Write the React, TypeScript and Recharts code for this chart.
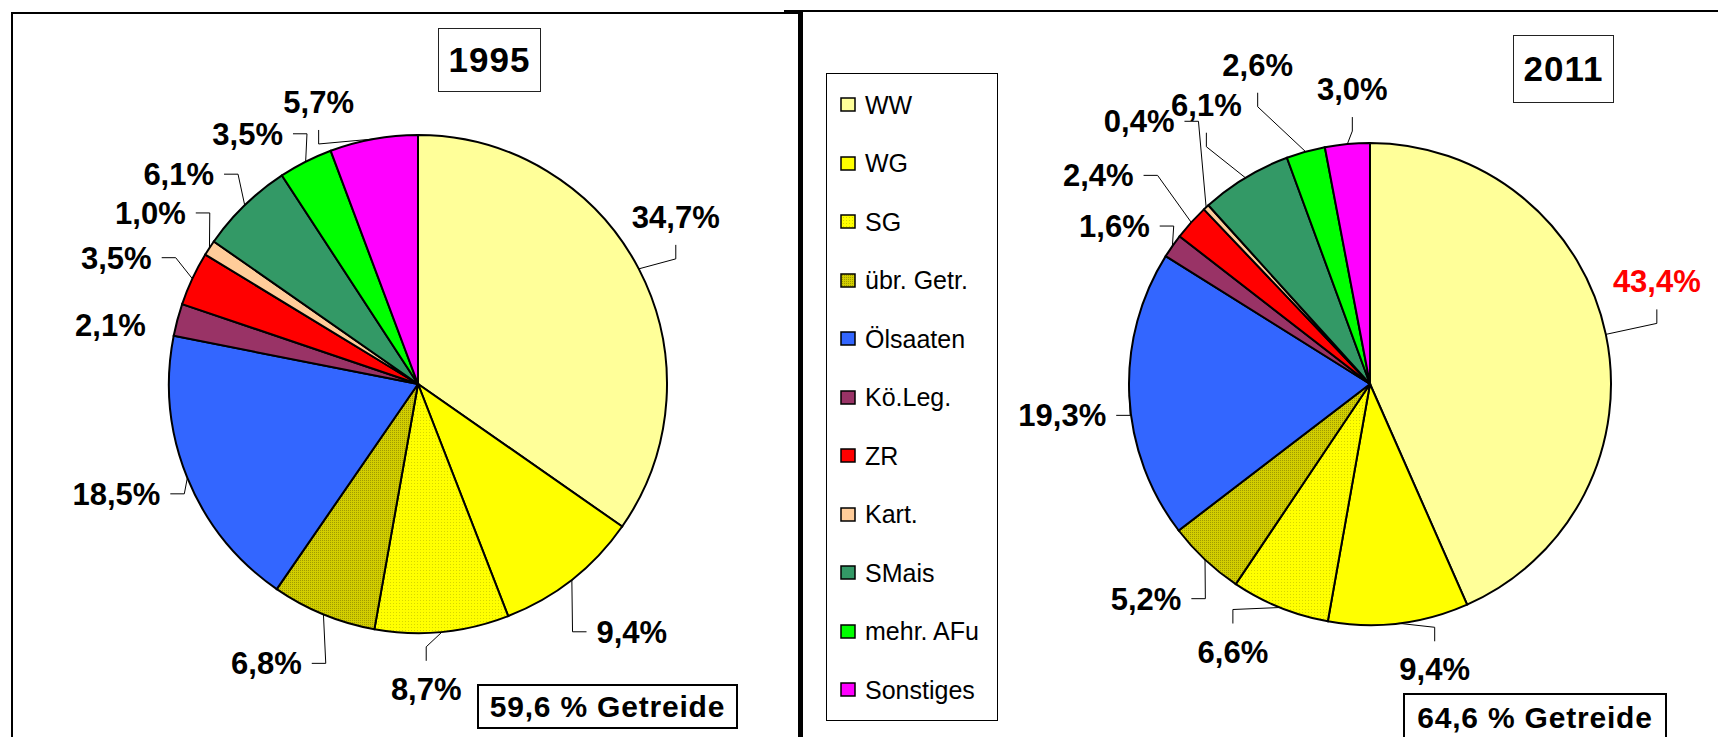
import React from "react";
import { PieChart, Pie, Cell } from "recharts";

// Anteile der Kulturen an der Ackerfläche (%)
const categories = ["WW", "WG", "SG", "übr. Getr.", "Ölsaaten", "Kö.Leg.", "ZR", "Kart.", "SMais", "mehr. AFu", "Sonstiges"];
const shares1995 = [34.7, 9.4, 8.7, 6.8, 18.5, 2.1, 3.5, 1.0, 6.1, 3.5, 5.7];
const shares2011 = [43.4, 9.4, 6.6, 5.2, 19.3, 1.6, 2.4, 0.4, 6.1, 2.6, 3.0];
const years = ["1995", "2011"];
const cerealTotals = [59.6, 64.6];

const fills = [
  "#FFFF99",
  "#FFFF00",
  "url(#patSG)",
  "url(#patGetr)",
  "#3366FF",
  "#993366",
  "#FF0000",
  "#FFCC99",
  "#339966",
  "#00FF00",
  "#FF00FF",
];

type Mode = "side" | "vert" | "none";
// label text centre relative to the slice edge point at mid angle
const place1995: [number, number, Mode][] = [
  [37, -52, "vert"],
  [60, 52, "side"],
  [-16, 57, "vert"],
  [-57, 49, "side"],
  [-71, 16, "side"],
  [-67, 5, "none"],
  [-76, -21, "side"],
  [-59, -35, "side"],
  [-66, -31, "side"],
  [-58, -28, "side"],
  [-55, -37, "vert"],
];
const place2011: [number, number, Mode][] = [
  [51, -53, "vert"],
  [36, 46, "vert"],
  [-47, 44, "vert"],
  [-59, 39, "side"],
  [-67, 20, "side"],
  [-58, -20, "side"],
  [-93, -47, "side"],
  [-67, -86, "side"],
  [-39, -73, "vert"],
  [-48, -87, "vert"],
  [5, -55, "vert"],
];

const FONT = "'Liberation Sans', Arial, sans-serif";
const LABEL_SIZE = 31;

const fmt = (v: number) => v.toFixed(1).replace(".", ",") + "%";
const textWidth = (s: string) =>
  s.split("").reduce((w, c) => w + (c === "," ? 0.278 : c === "%" ? 0.889 : 0.556), 0) * LABEL_SIZE;

const makeLabel = (place: [number, number, Mode][], highlight: number) => (props: any) => {
  const { cx, cy, midAngle, outerRadius, index, value } = props;
  const a = (-midAngle * Math.PI) / 180;
  const ex = cx + outerRadius * Math.cos(a);
  const ey = cy + outerRadius * Math.sin(a);
  const [dx, dy, mode] = place[index];
  const tx = ex + dx;
  const ty = ey + dy;
  const text = fmt(value);
  const halfW = textWidth(text) / 2;
  let d = "";
  if (mode === "side") {
    const s = dx < 0 ? 1 : -1;
    const endX = tx + s * (halfW + 10);
    const elbowX = endX + s * 14;
    d = `M${ex},${ey}L${elbowX},${ty}L${endX},${ty}`;
  } else if (mode === "vert") {
    const s = dy < 0 ? 1 : -1;
    const endY = ty + s * 28;
    const elbowY = endY + s * 14;
    d = `M${ex},${ey}L${tx},${elbowY}L${tx},${endY}`;
  }
  return (
    <g key={`lbl-${index}`}>
      {d && <path d={d} stroke="#000" strokeWidth={1} fill="none" />}
      <text
        x={tx}
        y={ty + LABEL_SIZE * 0.358}
        textAnchor="middle"
        fontFamily={FONT}
        fontWeight="bold"
        fontSize={LABEL_SIZE}
        fill={index === highlight ? "#FF0000" : "#000"}
      >
        {text}
      </text>
    </g>
  );
};

const data1995 = categories.map((name, i) => ({ name, value: shares1995[i] }));
const data2011 = categories.map((name, i) => ({ name, value: shares2011[i] }));

const boxText = (v: number) => v.toFixed(1).replace(".", ",") + " % Getreide";

export default function App() {
  return (
    <div style={{ position: "absolute", left: 0, top: 0, width: 1718, height: 737, background: "#fff", overflow: "hidden", fontFamily: FONT }}>
      <svg width={0} height={0} style={{ position: "absolute" }}>
        <defs>
          <pattern id="patSG" width={3} height={3} patternUnits="userSpaceOnUse">
            <rect width={3} height={3} fill="#FFFF00" />
            <rect width={1} height={1} fill="#D6D600" />
          </pattern>
          <pattern id="patGetr" width={2} height={2} patternUnits="userSpaceOnUse">
            <rect width={2} height={2} fill="#D2CE00" />
            <rect width={1} height={1} fill="#A09C00" />
          </pattern>
        </defs>
      </svg>

      {/* panel frames */}
      <div style={{ position: "absolute", left: 11, top: 12, width: 785, height: 740, borderLeft: "2px solid #000", borderTop: "2px solid #000", borderRight: "2px solid #000" }} />
      <div style={{ position: "absolute", left: 784, top: 10, width: 940, height: 2, background: "#000" }} />
      <div style={{ position: "absolute", left: 800, top: 10, width: 3, height: 740, background: "#000" }} />

      <PieChart width={1718} height={737} margin={{ top: 0, right: 0, bottom: 0, left: 0 }} style={{ position: "absolute", left: 0, top: 0 }}>
        <Pie
          data={data1995}
          dataKey="value"
          nameKey="name"
          cx={418}
          cy={384}
          outerRadius={249}
          startAngle={90}
          endAngle={-270}
          stroke="#000"
          strokeWidth={2}
          label={makeLabel(place1995, -1)}
          labelLine={false}
          isAnimationActive={false}
        >
          {data1995.map((d, i) => (
            <Cell key={`a-${d.name}`} fill={fills[i]} />
          ))}
        </Pie>
        <Pie
          data={data2011}
          dataKey="value"
          nameKey="name"
          cx={1370}
          cy={384}
          outerRadius={241}
          startAngle={90}
          endAngle={-270}
          stroke="#000"
          strokeWidth={2}
          label={makeLabel(place2011, 0)}
          labelLine={false}
          isAnimationActive={false}
        >
          {data2011.map((d, i) => (
            <Cell key={`b-${d.name}`} fill={fills[i]} />
          ))}
        </Pie>
      </PieChart>

      {/* year boxes */}
      <div style={{ position: "absolute", left: 438, top: 28, width: 101, height: 62, border: "1.5px solid #222", display: "flex", alignItems: "center", justifyContent: "center", fontWeight: "bold", fontSize: 35, letterSpacing: 1 }}>
        {years[0]}
      </div>
      <div style={{ position: "absolute", left: 1513, top: 35, width: 99, height: 66, border: "1.5px solid #222", display: "flex", alignItems: "center", justifyContent: "center", fontWeight: "bold", fontSize: 35, letterSpacing: 1 }}>
        {years[1]}
      </div>

      {/* cereal share boxes */}
      <div style={{ position: "absolute", left: 477, top: 684, width: 257, height: 41, border: "2px solid #000", display: "flex", alignItems: "center", justifyContent: "center", fontWeight: "bold", fontSize: 30, letterSpacing: 0.8, whiteSpace: "nowrap" }}>
        {boxText(cerealTotals[0])}
      </div>
      <div style={{ position: "absolute", left: 1403, top: 693, width: 260, height: 46, border: "2px solid #000", display: "flex", alignItems: "center", justifyContent: "center", fontWeight: "bold", fontSize: 30, letterSpacing: 0.8, whiteSpace: "nowrap" }}>
        {boxText(cerealTotals[1])}
      </div>

      {/* legend */}
      <div style={{ position: "absolute", left: 826, top: 73, width: 170, height: 646, border: "1.5px solid #000" }}>
        {categories.map((c, i) => (
          <div key={c} style={{ position: "absolute", left: 13, top: 105 + i * 58.5 - 73 - 16, height: 30, display: "flex", alignItems: "center", whiteSpace: "nowrap", fontSize: 25 }}>
            <svg width={17} height={16} style={{ marginRight: 8 }}>
              <rect x={1} y={1} width={14} height={13} fill={fills[i]} stroke="#000" strokeWidth={1.5} />
            </svg>
            <span>{c}</span>
          </div>
        ))}
      </div>
    </div>
  );
}
